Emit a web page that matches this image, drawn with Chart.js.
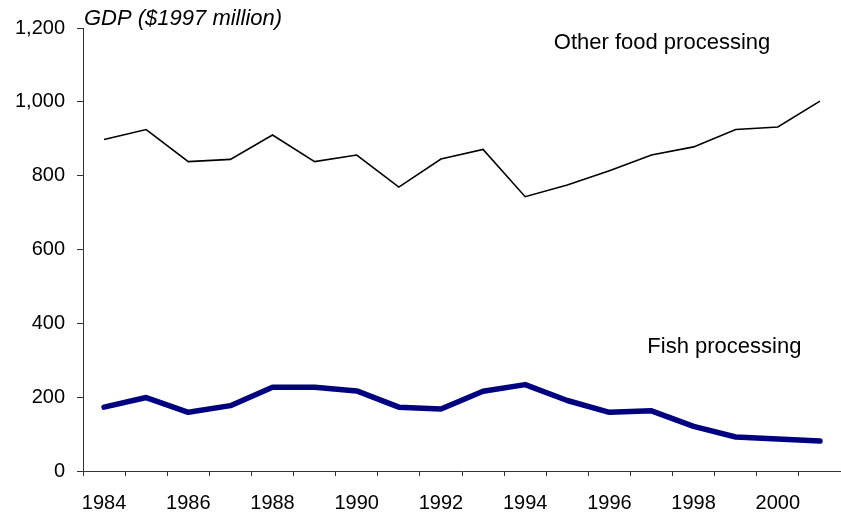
<!DOCTYPE html>
<html lang="en">
<head>
    <meta charset="UTF-8">
    <title>Food processing GDP</title>
    <script src="https://cdn.jsdelivr.net/npm/chart.js"></script>
    <style>
        html, body { margin: 0; padding: 0; background: #fff; }
        #wrap { width: 841px; height: 516px; }
    </style>
</head>
<body>
    <div id="wrap"><canvas id="gdpChart" width="841" height="516"></canvas></div>
    <script>
        // Data
        const years = ['1984', '1985', '1986', '1987', '1988', '1989', '1990', '1991', '1992',
                       '1993', '1994', '1995', '1996', '1997', '1998', '1999', '2000', '2001'];
        const otherFood = [898, 925, 838, 844, 910, 838, 856, 769, 845,
                           871, 743, 775, 813, 856, 878, 925, 932, 1002];
        const fish = [173, 199, 159, 177, 227, 227, 217, 173, 168,
                      216, 234, 191, 159, 163, 121, 92, 87, 81];
        const yTicks = [0, 200, 400, 600, 800, 1000, 1200];

        // Text labels placed in data space: [text, x category, y value, italic]
        const notes = [
            ['GDP ($1997 million)', null, 1200, true],
            ['Other food processing', 13.25, 1160, false],
            ['Fish processing', 14.73, 335, false]
        ];

        const font = 'Arial, "Liberation Sans", sans-serif';

        const notesPlugin = {
            id: 'notes',
            afterDraw(chart) {
                const ctx = chart.ctx;
                const xs = chart.scales.x, ys = chart.scales.y;
                const step = xs.getPixelForValue(1) - xs.getPixelForValue(0);
                ctx.save();
                ctx.fillStyle = '#000';
                notes.forEach(([text, xv, yv, italic]) => {
                    ctx.font = (italic ? 'italic ' : '') + '22px ' + font;
                    ctx.textBaseline = 'middle';
                    let x;
                    if (xv === null) {
                        ctx.textAlign = 'left';
                        x = chart.chartArea.left + 1;
                    } else {
                        ctx.textAlign = 'center';
                        x = xs.getPixelForValue(0) + xv * step;
                    }
                    ctx.fillText(text, x, ys.getPixelForValue(yv) - (italic ? 9 : 0));
                });
                ctx.restore();
            }
        };

        const ctx = document.getElementById('gdpChart').getContext('2d');
        new Chart(ctx, {
            type: 'line',
            data: {
                labels: years,
                datasets: [{
                    label: 'Other food processing',
                    data: otherFood,
                    borderColor: '#000000',
                    borderWidth: 1.6,
                    pointRadius: 0,
                    tension: 0,
                    fill: false
                }, {
                    label: 'Fish processing',
                    data: fish,
                    borderColor: '#000080',
                    borderWidth: 5.5,
                    pointRadius: 0,
                    tension: 0,
                    borderJoinStyle: 'round',
                    borderCapStyle: 'round',
                    fill: false
                }]
            },
            options: {
                responsive: false,
                animation: false,
                layout: { padding: { top: 28, right: 0, left: 0, bottom: 0 } },
                plugins: {
                    legend: { display: false },
                    tooltip: { enabled: false }
                },
                scales: {
                    x: {
                        offset: true,
                        grid: { offset: true, drawOnChartArea: false, drawTicks: true, tickLength: 5, color: '#333' },
                        border: { display: true, color: '#333', width: 1 },
                        ticks: {
                            autoSkip: false,
                            maxRotation: 0,
                            color: '#000',
                            padding: 15,
                            font: { family: font, size: 20 },
                            callback: (v, i) => (i % 2 === 0 ? years[i] : '')
                        },
                        afterFit: s => { s.height = 45; }
                    },
                    y: {
                        min: 0,
                        max: 1200,
                        afterBuildTicks: s => { s.ticks = yTicks.map(v => ({ value: v })); },
                        grid: { drawOnChartArea: false, drawTicks: true, tickLength: 6, color: '#333' },
                        border: { display: true, color: '#333', width: 1 },
                        ticks: {
                            color: '#000',
                            padding: 12,
                            font: { family: font, size: 20 },
                            callback: v => v.toLocaleString('en-US')
                        },
                        afterFit: s => { s.width = 83; }
                    }
                }
            },
            plugins: [notesPlugin]
        });
    </script>
</body>
</html>
